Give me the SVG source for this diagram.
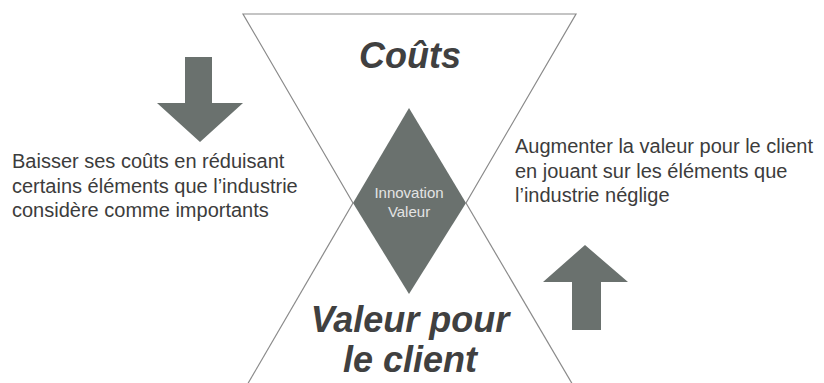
<svg xmlns="http://www.w3.org/2000/svg" width="824" height="383" viewBox="0 0 824 383">
  <style>
    .frame { fill: none; stroke: #8a8a8a; stroke-width: 1.2; }
    .shape { fill: #6a716e; }
    .title { font-family: "Liberation Sans", Arial, sans-serif; font-size: 36px; font-weight: bold; font-style: italic; fill: #404040; text-anchor: middle; }
    .note { font-family: "Liberation Sans", Arial, sans-serif; font-size: 20px; fill: #3c3c3c; }
    .center { font-family: "Liberation Sans", Arial, sans-serif; font-size: 15px; fill: #e4e4e4; text-anchor: middle; }
  </style>

  <!-- hourglass outline: two triangles meeting at the diamond's side corners -->
  <g id="connectors">
    <polyline class="frame" points="353,203 243,14 576,14 466,203"/>
    <polyline class="frame" points="353,203 243,392"/>
    <polyline class="frame" points="466,203 577,392"/>
  </g>

  <g id="couts">
    <text class="title" x="410" y="68">Coûts</text>
  </g>

  <g id="valeur-client">
    <text class="title" x="410" y="332">Valeur pour</text>
    <text class="title" x="410" y="372">le client</text>
  </g>

  <g id="innovation-valeur">
    <polygon class="shape" points="409,108 466,203 409,294 353,203"/>
    <text class="center" x="409" y="198">Innovation</text>
    <text class="center" x="409" y="217">Valeur</text>
  </g>

  <g id="arrow-down">
    <polygon class="shape" points="185,57 212,57 212,103 243,103 200,142 157,103 185,103"/>
  </g>

  <g id="arrow-up">
    <polygon class="shape" points="585,245 628,282 601,282 601,330 572,330 572,282 543,282"/>
  </g>

  <g id="note-left">
    <text class="note" x="12" y="168">Baisser ses coûts en réduisant</text>
    <text class="note" x="12" y="193">certains éléments que l’industrie</text>
    <text class="note" x="12" y="217">considère comme importants</text>
  </g>

  <g id="note-right">
    <text class="note" x="515" y="153">Augmenter la valeur pour le client</text>
    <text class="note" x="515" y="178">en jouant sur les éléments que</text>
    <text class="note" x="515" y="202">l’industrie néglige</text>
  </g>
</svg>
